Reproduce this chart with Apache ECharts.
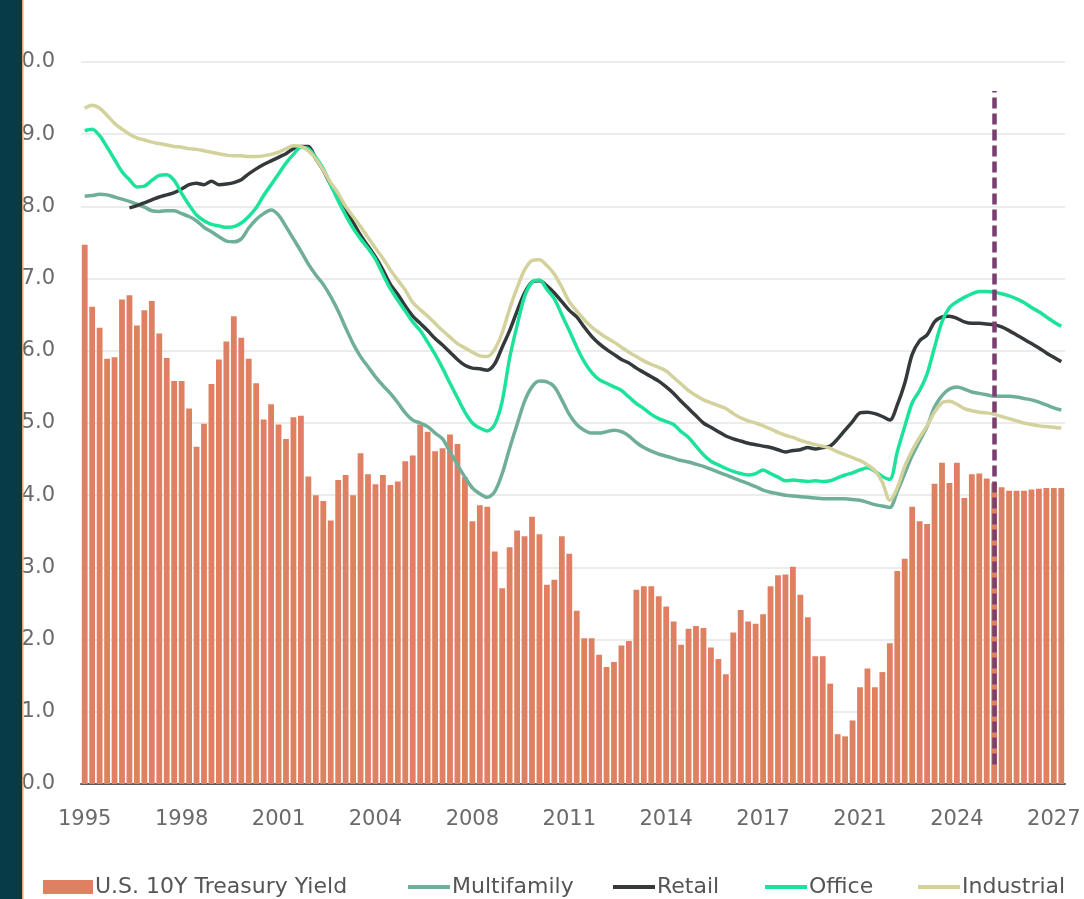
<!DOCTYPE html>
<html>
<head>
<meta charset="utf-8">
<title>Cap rates vs 10Y Treasury</title>
<script src="https://cdn.jsdelivr.net/npm/echarts@6/dist/echarts.min.js"></script>
<style>
  html, body { margin: 0; padding: 0; background: #fff; }
  #main { width: 1084px; height: 899px; }
</style>
</head>
<body>
<div id="main"></div>
<script>
// quarterly categories, 1995 Q1 .. 2027 Q4
var quarters = [];
for (var y = 1995; y <= 2027; y++) {
    for (var q = 1; q <= 4; q++) {
        quarters.push(y + 'Q' + q);
    }
}

// U.S. 10Y Treasury yield (bars)
var treasury = [
    7.47, 6.61, 6.32, 5.89, 5.91, 6.71, 6.77, 6.35, 6.56, 6.69, 6.24, 5.90, 5.58, 5.58, 5.20, 4.67,
    4.99, 5.54, 5.88, 6.13, 6.48, 6.18, 5.89, 5.55, 5.05, 5.26, 4.98, 4.78, 5.08, 5.10, 4.26, 4.00,
    3.92, 3.65, 4.21, 4.28, 4.00, 4.58, 4.29, 4.15, 4.28, 4.14, 4.19, 4.47, 4.55, 4.98, 4.88, 4.61,
    4.65, 4.84, 4.71, 4.25, 3.64, 3.86, 3.84, 3.22, 2.71, 3.28, 3.51, 3.43, 3.70, 3.46, 2.76, 2.83,
    3.43, 3.19, 2.40, 2.02, 2.02, 1.79, 1.62, 1.69, 1.92, 1.98, 2.69, 2.74, 2.74, 2.60, 2.46, 2.25,
    1.93, 2.15, 2.19, 2.16, 1.89, 1.73, 1.52, 2.10, 2.41, 2.25, 2.22, 2.35, 2.74, 2.89, 2.90, 3.01,
    2.62, 2.31, 1.77, 1.77, 1.39, 0.69, 0.66, 0.88, 1.34, 1.60, 1.34, 1.55, 1.95, 2.95, 3.12, 3.84,
    3.64, 3.60, 4.16, 4.45, 4.17, 4.45, 3.96, 4.29, 4.30, 4.23, 4.17, 4.11, 4.06, 4.06, 4.06, 4.08,
    4.09, 4.10, 4.10, 4.10
];

var multifamily = [
    8.14, 8.15, 8.17, 8.16, 8.13, 8.10, 8.07, 8.03, 7.99, 7.94, 7.93, 7.94, 7.94, 7.90, 7.86, 7.80,
    7.71, 7.65, 7.58, 7.52, 7.51, 7.55, 7.70, 7.82, 7.90, 7.95, 7.88, 7.72, 7.55, 7.38, 7.20, 7.05,
    6.92, 6.75, 6.55, 6.32, 6.10, 5.92, 5.78, 5.64, 5.52, 5.41, 5.28, 5.14, 5.04, 5.00, 4.95, 4.86,
    4.78, 4.60, 4.42, 4.25, 4.10, 4.02, 3.97, 4.05, 4.30, 4.65, 4.98, 5.30, 5.50, 5.58, 5.57, 5.50,
    5.32, 5.12, 4.98, 4.90, 4.86, 4.86, 4.88, 4.90, 4.88, 4.82, 4.73, 4.66, 4.61, 4.57, 4.54, 4.51,
    4.48, 4.46, 4.43, 4.40, 4.36, 4.32, 4.28, 4.24, 4.20, 4.16, 4.12, 4.07, 4.04, 4.02, 4.00, 3.99,
    3.98, 3.97, 3.96, 3.95, 3.95, 3.95, 3.95, 3.94, 3.93, 3.90, 3.87, 3.85, 3.83, 4.05, 4.30, 4.55,
    4.75, 4.95, 5.22, 5.38, 5.47, 5.50, 5.47, 5.43, 5.41, 5.39, 5.37, 5.37, 5.37, 5.36, 5.34, 5.32,
    5.29, 5.25, 5.21, 5.18
];

var retail = [
    null, null, null, null, null, null, 7.98, 8.01, 8.05, 8.09, 8.13, 8.16, 8.19, 8.24, 8.30, 8.32,
    8.30, 8.35, 8.30, 8.31, 8.33, 8.37, 8.45, 8.52, 8.58, 8.63, 8.68, 8.73, 8.80, 8.83, 8.83, 8.66,
    8.50, 8.30, 8.12, 7.95, 7.78, 7.60, 7.45, 7.30, 7.12, 6.92, 6.78, 6.62, 6.48, 6.38, 6.28, 6.17,
    6.08, 5.98, 5.88, 5.80, 5.76, 5.75, 5.73, 5.82, 6.05, 6.28, 6.55, 6.80, 6.95, 6.97, 6.90, 6.80,
    6.68, 6.56, 6.47, 6.33, 6.20, 6.10, 6.02, 5.95, 5.88, 5.83, 5.76, 5.70, 5.64, 5.58, 5.50, 5.41,
    5.30, 5.20, 5.10, 5.00, 4.94, 4.88, 4.82, 4.78, 4.75, 4.72, 4.70, 4.68, 4.66, 4.63, 4.60, 4.62,
    4.63, 4.66, 4.64, 4.66, 4.68, 4.78, 4.90, 5.02, 5.14, 5.15, 5.13, 5.09, 5.04, 5.25, 5.55, 5.95,
    6.14, 6.22, 6.40, 6.47, 6.48, 6.45, 6.40, 6.38, 6.38, 6.37, 6.36, 6.33, 6.28, 6.22, 6.16, 6.10,
    6.04, 5.97, 5.91, 5.85
];

var office = [
    9.05, 9.07, 8.98, 8.82, 8.65, 8.48, 8.37, 8.27, 8.28, 8.36, 8.43, 8.44, 8.36, 8.18, 8.02, 7.88,
    7.80, 7.75, 7.73, 7.71, 7.72, 7.77, 7.86, 7.98, 8.15, 8.30, 8.45, 8.60, 8.72, 8.82, 8.80, 8.68,
    8.52, 8.30, 8.08, 7.88, 7.70, 7.55, 7.42, 7.27, 7.06, 6.86, 6.70, 6.55, 6.40, 6.28, 6.12, 5.95,
    5.76, 5.55, 5.35, 5.15, 5.00, 4.93, 4.89, 4.98, 5.30, 5.90, 6.35, 6.75, 6.95, 6.98, 6.85, 6.72,
    6.50, 6.28, 6.05, 5.85, 5.70, 5.60, 5.55, 5.50, 5.45, 5.36, 5.27, 5.20, 5.12, 5.06, 5.02, 4.98,
    4.88, 4.80, 4.68, 4.56, 4.47, 4.42, 4.37, 4.33, 4.30, 4.28, 4.30, 4.35, 4.30, 4.25, 4.20, 4.21,
    4.20, 4.19, 4.20, 4.19, 4.20, 4.24, 4.28, 4.31, 4.35, 4.38, 4.33, 4.26, 4.22, 4.60, 4.95, 5.28,
    5.45, 5.68, 6.05, 6.40, 6.60, 6.68, 6.74, 6.79, 6.82, 6.82, 6.81, 6.79, 6.76, 6.72, 6.67, 6.60,
    6.54, 6.47, 6.40, 6.34
];

var industrial = [
    9.36, 9.40, 9.36, 9.26, 9.15, 9.07, 9.00, 8.95, 8.92, 8.89, 8.87, 8.85, 8.83, 8.82, 8.80, 8.79,
    8.77, 8.75, 8.73, 8.71, 8.70, 8.70, 8.69, 8.69, 8.70, 8.72, 8.75, 8.80, 8.84, 8.83, 8.77, 8.66,
    8.50, 8.33, 8.18, 8.00, 7.86, 7.72, 7.57, 7.42, 7.28, 7.12, 6.98, 6.84, 6.67, 6.57, 6.48, 6.38,
    6.28, 6.19, 6.10, 6.04, 5.98, 5.93, 5.92, 6.02, 6.25, 6.58, 6.87, 7.12, 7.25, 7.26, 7.18, 7.06,
    6.88, 6.68, 6.55, 6.43, 6.33, 6.25, 6.18, 6.12, 6.05, 5.98, 5.92, 5.86, 5.81, 5.77, 5.72, 5.63,
    5.54, 5.45, 5.38, 5.32, 5.28, 5.24, 5.20, 5.13, 5.07, 5.03, 5.00, 4.96, 4.92, 4.87, 4.83, 4.80,
    4.76, 4.73, 4.70, 4.68, 4.65, 4.60, 4.56, 4.52, 4.48, 4.42, 4.34, 4.18, 3.93, 4.10, 4.40, 4.62,
    4.80, 4.96, 5.15, 5.28, 5.30, 5.26, 5.20, 5.17, 5.15, 5.14, 5.12, 5.09, 5.06, 5.03, 5.00, 4.98,
    4.96, 4.95, 4.94, 4.93
];

// start of the forecast period
var forecastStart = '2025Q3';

var font = 'DejaVu Sans';

function lineSeries(name, data, color) {
    return {
        name: name,
        type: 'line',
        data: data,
        symbol: 'none',
        smooth: 0.3,
        lineStyle: { color: color, width: 3.5 },
        itemStyle: { color: color }
    };
}

// one legend per item so every entry sits where the original has it
function legendItem(name, left, isBar) {
    return {
        left: left,
        top: 871,
        padding: 5,
        itemWidth: isBar ? 50 : 42,
        itemHeight: isBar ? 14 : 4,
        icon: 'rect',
        selectedMode: false,
        textStyle: { color: '#555', fontFamily: font, fontSize: 22, padding: [0, 0, 0, -3] },
        data: [name]
    };
}

var myChart = echarts.init(document.getElementById('main'));

var series = [
    {
        name: 'U.S. 10Y Treasury Yield',
        type: 'bar',
        data: treasury,
        barCategoryGap: '22%',
        itemStyle: { color: '#df8062' }
    },
    lineSeries('Multifamily', multifamily, '#6fae98'),
    lineSeries('Retail', retail, '#343a3b'),
    lineSeries('Office', office, '#1de39a'),
    lineSeries('Industrial', industrial, '#d3d29d')
];

// dashed divider between history and forecast
series[4].markLine = {
    silent: true,
    symbol: ['none', 'none'],
    label: { show: false },
    lineStyle: { color: '#7b3e6d', width: 4.5, type: [11, 5] },
    data: [[
        { coord: [forecastStart, 0.27] },
        { coord: [forecastStart, 9.6] }
    ]]
};

var option = {
    animation: false,
    backgroundColor: '#ffffff',
    grid: { left: 81, right: 19, top: 62, bottom: 115, containLabel: false },
    xAxis: {
        type: 'category',
        data: quarters,
        boundaryGap: true,
        axisLine: { lineStyle: { color: '#5a5a5a', width: 2 } },
        axisTick: { show: false },
        axisLabel: {
            interval: 12,
            margin: 25,
            color: '#6a6a6a',
            fontFamily: font,
            fontSize: 21,
            formatter: function (v) { return v.slice(0, 4); }
        }
    },
    yAxis: {
        type: 'value',
        min: 0,
        max: 10,
        interval: 1,
        axisLine: { show: false },
        axisTick: { show: false },
        splitLine: { lineStyle: { color: '#e6e6e6', width: 1.5 } },
        axisLabel: {
            margin: 26,
            color: '#6a6a6a',
            fontFamily: font,
            fontSize: 21,
            formatter: function (v) { return v.toFixed(1); }
        }
    },
    legend: [
        legendItem('U.S. 10Y Treasury Yield', 38, true),
        legendItem('Multifamily', 403),
        legendItem('Retail', 608),
        legendItem('Office', 760),
        legendItem('Industrial', 913)
    ],
    graphic: [
        {
            type: 'rect', z: 100, left: 0, top: 0,
            shape: { width: 22, height: 899 },
            style: { fill: '#063b47' }
        },
        {
            type: 'rect', z: 100, left: 22, top: 0,
            shape: { width: 1.5, height: 899 },
            style: { fill: '#d9a47c' }
        }
    ],
    series: series
};

myChart.setOption(option);
</script>
</body>
</html>
